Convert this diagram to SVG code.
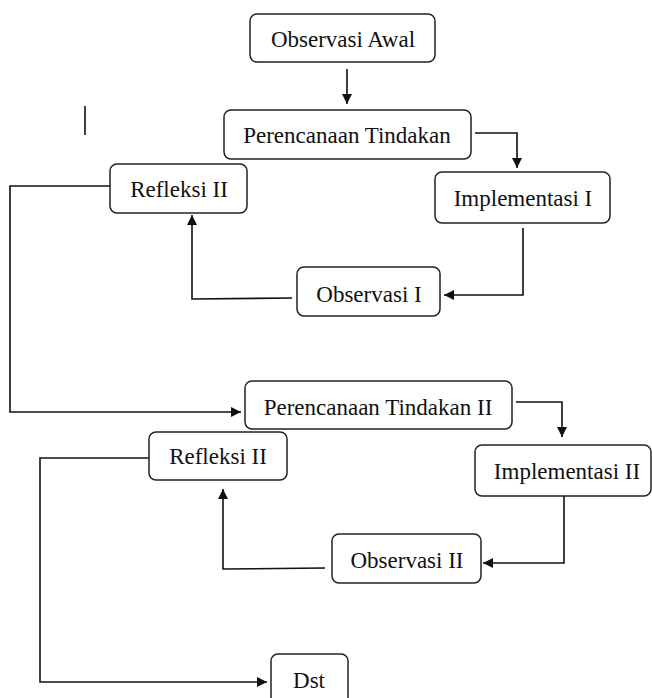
<svg xmlns="http://www.w3.org/2000/svg" width="652" height="698" viewBox="0 0 652 698">
<defs>
<marker id="ah" markerUnits="userSpaceOnUse" markerWidth="10" markerHeight="10" refX="10" refY="5" orient="auto">
<path d="M0,0 L10,5 L0,10 z" fill="#111"/>
</marker>
<style>
.box{fill:#fff;stroke:#222;stroke-width:1.5}
.lbl{font-family:"Liberation Serif","Times New Roman",serif;font-size:23px;fill:#111;text-anchor:middle}
.con{fill:none;stroke:#111;stroke-width:1.6}
</style>
</defs>
<rect width="652" height="698" fill="#fff"/>
<g id="connectors">
<path class="con" d="M347,69 L347,104" marker-end="url(#ah)"/>
<path class="con" d="M475,133 L517,133 L517,168" marker-end="url(#ah)"/>
<path class="con" d="M523,228 L523,295 L444,295" marker-end="url(#ah)"/>
<path class="con" d="M292,298 L192,299 L192,215" marker-end="url(#ah)"/>
<path class="con" d="M110,186 L10,186 L10,412 L241,412" marker-end="url(#ah)"/>
<path class="con" d="M516,402 L562,402 L562,437" marker-end="url(#ah)"/>
<path class="con" d="M564,496 L564,563 L483,563" marker-end="url(#ah)"/>
<path class="con" d="M325,568 L223,569 L223,489" marker-end="url(#ah)"/>
<path class="con" d="M149,458 L40,458 L40,682 L267,682" marker-end="url(#ah)"/>
<path class="con" d="M85,106 L85,135"/>
<circle cx="378" cy="273" r="1" fill="#3344ee"/>
</g>
<g id="observasi-awal"><rect class="box" x="250" y="14" width="185" height="48" rx="7"/><text class="lbl" x="343" y="47">Observasi Awal</text></g>
<g id="perencanaan-tindakan"><rect class="box" x="224" y="110" width="247" height="49" rx="7"/><text class="lbl" x="347" y="143">Perencanaan Tindakan</text></g>
<g id="implementasi-1"><rect class="box" x="435" y="172" width="175" height="51" rx="7"/><text class="lbl" x="523" y="206">Implementasi I</text></g>
<g id="refleksi-1"><rect class="box" x="110" y="164" width="137" height="49" rx="7"/><text class="lbl" x="179" y="197">Refleksi II</text></g>
<g id="observasi-1"><rect class="box" x="297" y="267" width="143" height="49" rx="7"/><text class="lbl" x="369" y="302">Observasi I</text></g>
<g id="perencanaan-tindakan-2"><rect class="box" x="245" y="381" width="267" height="48" rx="7"/><text class="lbl" x="378" y="415">Perencanaan Tindakan II</text></g>
<g id="refleksi-2"><rect class="box" x="149" y="432" width="138" height="48" rx="7"/><text class="lbl" x="218" y="464">Refleksi II</text></g>
<g id="implementasi-2"><rect class="box" x="475" y="445" width="176" height="51" rx="7"/><text class="lbl" x="567" y="479">Implementasi II</text></g>
<g id="observasi-2"><rect class="box" x="332" y="534" width="149" height="49" rx="7"/><text class="lbl" x="407" y="568">Observasi II</text></g>
<g id="dst"><rect class="box" x="271" y="654" width="77" height="52" rx="7"/><text class="lbl" x="309" y="688">Dst</text></g>
</svg>
